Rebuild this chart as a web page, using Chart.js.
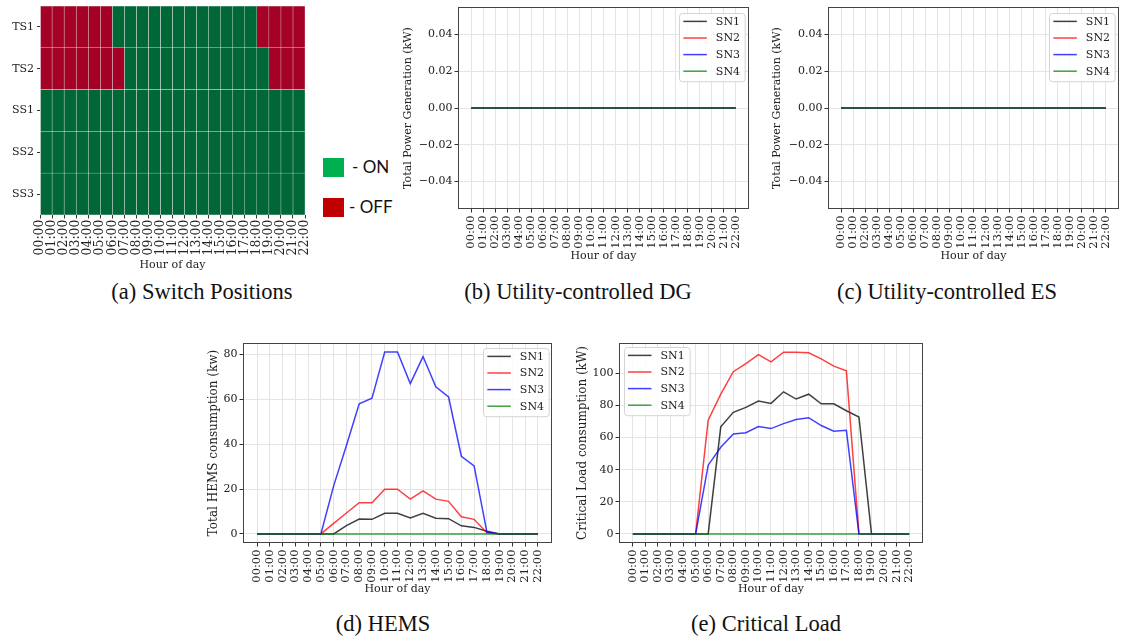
<!DOCTYPE html>
<html>
<head>
<meta charset="utf-8">
<script src="https://cdn.jsdelivr.net/npm/chart.js@4.4.1/dist/chart.umd.min.js"></script>
<style>
  body { margin: 0; background: #fff; width: 1121px; height: 641px; position: relative; overflow: hidden; }
  .box { position: absolute; }
  .cap { position: absolute; font-family: "Liberation Serif", "Times New Roman", serif; font-size: 22.5px; line-height: 26px; color: #111; transform: translateX(-50%); white-space: nowrap; }
  .key { position: absolute; width: 21px; height: 19px; }
  .keytxt { position: absolute; font-family: Lato, "Open Sans", sans-serif; font-size: 17px; line-height: 20px; color: #111; }
</style>
</head>
<body>
<div class="box" style="left:0px;top:0px;width:310px;height:272px"><canvas id="chartA"></canvas></div>
<div class="box" style="left:402px;top:0px;width:353px;height:263px"><canvas id="chartB"></canvas></div>
<div class="box" style="left:771px;top:0px;width:350px;height:263px"><canvas id="chartC"></canvas></div>
<div class="box" style="left:207px;top:335px;width:353px;height:261px"><canvas id="chartD"></canvas></div>
<div class="box" style="left:576px;top:335px;width:354px;height:261px"><canvas id="chartE"></canvas></div>

<div class="key" style="left:323px;top:158px;background:#00b050"></div>
<div class="keytxt" style="left:352px;top:157px">- ON</div>
<div class="key" style="left:323px;top:198px;background:#c00000"></div>
<div class="keytxt" style="left:349px;top:197px">- OFF</div>

<div class="cap" style="left:202px;top:279px">(a) Switch Positions</div>
<div class="cap" style="left:578px;top:279px">(b) Utility-controlled DG</div>
<div class="cap" style="left:947px;top:279px">(c) Utility-controlled ES</div>
<div class="cap" style="left:383px;top:611px">(d) HEMS</div>
<div class="cap" style="left:766px;top:611px">(e) Critical Load</div>

<script>
// heures affichées sur l'axe x
const hours = ['00:00','01:00','02:00','03:00','04:00','05:00','06:00','07:00','08:00','09:00','10:00','11:00',
               '12:00','13:00','14:00','15:00','16:00','17:00','18:00','19:00','20:00','21:00','22:00'];

// positions des interrupteurs (1 = ON, 0 = OFF), 22 cases par ligne
const switchRows = ['TS1', 'TS2', 'SS1', 'SS2', 'SS3'];
const ts1 = [0,0,0,0,0,0,1,1,1,1,1,1,1,1,1,1,1,1,0,0,0,0];
const ts2 = [0,0,0,0,0,0,0,1,1,1,1,1,1,1,1,1,1,1,1,0,0,0];
const ss1 = [1,1,1,1,1,1,1,1,1,1,1,1,1,1,1,1,1,1,1,1,1,1];
const ss2 = [1,1,1,1,1,1,1,1,1,1,1,1,1,1,1,1,1,1,1,1,1,1];
const ss3 = [1,1,1,1,1,1,1,1,1,1,1,1,1,1,1,1,1,1,1,1,1,1];

// production DG / ES contrôlée par l'opérateur (kW)
const dgSN1 = [0,0,0,0,0,0,0,0,0,0,0,0,0,0,0,0,0,0,0,0,0,0,0];
const dgSN2 = [0,0,0,0,0,0,0,0,0,0,0,0,0,0,0,0,0,0,0,0,0,0,0];
const dgSN3 = [0,0,0,0,0,0,0,0,0,0,0,0,0,0,0,0,0,0,0,0,0,0,0];
const dgSN4 = [0,0,0,0,0,0,0,0,0,0,0,0,0,0,0,0,0,0,0,0,0,0,0];
const esSN1 = [0,0,0,0,0,0,0,0,0,0,0,0,0,0,0,0,0,0,0,0,0,0,0];
const esSN2 = [0,0,0,0,0,0,0,0,0,0,0,0,0,0,0,0,0,0,0,0,0,0,0];
const esSN3 = [0,0,0,0,0,0,0,0,0,0,0,0,0,0,0,0,0,0,0,0,0,0,0];
const esSN4 = [0,0,0,0,0,0,0,0,0,0,0,0,0,0,0,0,0,0,0,0,0,0,0];

// consommation HEMS (kW)
const hemsSN1 = [0,0,0,0,0,0,0,3.7,6.6,6.5,9.2,9.2,7.1,9.2,7.0,6.8,3.6,2.9,1.2,0,0,0,0];
const hemsSN2 = [0,0,0,0,0,0,4.7,9.3,13.9,13.9,19.9,19.9,15.5,19.2,15.5,14.5,7.6,6.5,0.5,0,0,0,0];
const hemsSN3 = [0,0,0,0,0,0,21.4,39.4,58,60.5,81,81,67,79,65.5,61,34.6,30.3,0.8,0,0,0,0];
const hemsSN4 = [0,0,0,0,0,0,0,0,0,0,0,0,0,0,0,0,0,0,0,0,0,0,0];

// charge critique (kW)
const critSN1 = [0,0,0,0,0,0,0,66.7,75.7,78.8,82.7,81.3,88.5,84,87,81,81,76.7,72.8,0,0,0,0];
const critSN2 = [0,0,0,0,0,0,70.8,87,101,106,111.7,107.2,113.2,113.2,112.8,109,104.5,101.6,0,0,0,0,0];
const critSN3 = [0,0,0,0,0,0,42.8,54,62.3,63,66.9,65.6,68.7,71.2,72.4,67.5,64,64.6,0,0,0,0,0];
const critSN4 = [0,0,0,0,0,0,0,0,0,0,0,0,0,0,0,0,0,0,0,0,0,0,0];

// graduations de l'axe y
const genTicks = [-0.04, -0.02, 0, 0.02, 0.04];
const hemsTicks = [0, 20, 40, 60, 80];
const critTicks = [0, 20, 40, 60, 80, 100];

const seriesNames = ['SN1', 'SN2', 'SN3', 'SN4'];
const seriesColors = ['rgba(0,0,0,0.75)', 'rgba(255,0,0,0.75)', 'rgba(0,0,255,0.75)', 'rgba(0,128,0,0.75)'];

Chart.defaults.font.family = "'DejaVu Serif', serif";
Chart.defaults.color = '#222';
Chart.defaults.animation = false;

// cadre complet autour de la zone de tracé
const frame = {
  id: 'frame',
  afterDraw(chart, args, opts) {
    if (!opts.show) return;
    const a = chart.chartArea, ctx = chart.ctx;
    ctx.save();
    ctx.strokeStyle = '#444';
    ctx.lineWidth = 1;
    ctx.strokeRect(Math.round(a.left) + 0.5, Math.round(a.top) + 0.5,
                   Math.round(a.right - a.left) - 1, Math.round(a.bottom - a.top) - 1);
    ctx.restore();
  }
};

// légende dans un cadre arrondi, à l'intérieur du graphe
const boxLegend = {
  id: 'boxLegend',
  afterDraw(chart, args, opts) {
    if (!opts.corner) return;
    const ctx = chart.ctx, a = chart.chartArea;
    const sets = chart.data.datasets;
    ctx.save();
    ctx.font = "11px 'DejaVu Serif'";
    const tw = Math.max(...sets.map(d => ctx.measureText(d.label).width));
    const rowH = 16.6;
    const w = 4 + 23.5 + 9 + tw + 5;
    const h = 8.4 + rowH * (sets.length - 1) + 10;
    const x = opts.corner === 'tr' ? a.right - opts.dx - w : a.left + opts.dx;
    const y = a.top + opts.dy;
    ctx.beginPath();
    ctx.roundRect(Math.round(x) + 0.5, Math.round(y) + 0.5, w, h, 3);
    ctx.fillStyle = 'rgba(255,255,255,0.85)';
    ctx.fill();
    ctx.strokeStyle = '#d4d4d4';
    ctx.lineWidth = 1;
    ctx.stroke();
    sets.forEach((d, i) => {
      const cy = y + 8.4 + rowH * i;
      ctx.strokeStyle = d.borderColor;
      ctx.lineWidth = 1.5;
      ctx.beginPath();
      ctx.moveTo(x + 4, cy);
      ctx.lineTo(x + 27.5, cy);
      ctx.stroke();
      ctx.fillStyle = '#222';
      ctx.textBaseline = 'middle';
      ctx.fillText(d.label, x + 36.5, cy + 0.5);
    });
    ctx.restore();
  }
};

function fixWidth(w) {
  return s => { s.width = w; s.paddingTop = 0; s.paddingBottom = 0; s.paddingLeft = 0; s.paddingRight = 0; };
}
function fixHeight(h) {
  return s => { s.height = h; s.paddingTop = 0; s.paddingBottom = 0; s.paddingLeft = 0; s.paddingRight = 0; };
}

// graphe linéaire générique
function lineChart(id, values, cfg) {
  const datasets = values.map((v, i) => ({
    label: seriesNames[i],
    data: v.map((y, x) => ({ x: x, y: y })),
    borderColor: seriesColors[i],
    backgroundColor: seriesColors[i],
    borderWidth: 1.5,
    pointRadius: 0,
    tension: 0,
    order: values.length - i
  }));
  return new Chart(document.getElementById(id), {
    type: 'line',
    data: { datasets: datasets },
    options: {
      responsive: true,
      maintainAspectRatio: false,
      devicePixelRatio: 1,
      layout: { padding: { top: cfg.padTop, right: cfg.padRight, left: 0, bottom: 0 } },
      plugins: {
        legend: { display: false },
        tooltip: { enabled: false },
        frame: { show: true },
        boxLegend: { corner: cfg.corner, dx: cfg.legDx, dy: cfg.legDy }
      },
      scales: {
        x: {
          type: 'linear',
          min: -1.1,
          max: 23.1,
          afterBuildTicks: s => { s.ticks = hours.map((h, i) => ({ value: i })); },
          afterFit: fixHeight(cfg.xH),
          ticks: {
            autoSkip: false, maxRotation: 90, minRotation: 90, padding: 3,
            font: { size: 11.5 },
            callback: v => hours[v]
          },
          grid: { color: '#e4e4e4', tickColor: '#333', tickLength: 3.5 },
          border: { display: false },
          title: { display: true, text: 'Hour of day', font: { size: 11 }, padding: 0 }
        },
        y: {
          min: cfg.yMin,
          max: cfg.yMax,
          afterBuildTicks: s => { s.ticks = cfg.yTicks.map(v => ({ value: v })); },
          afterFit: fixWidth(cfg.yW),
          ticks: {
            padding: 2,
            font: { size: 11 },
            callback: cfg.yFmt
          },
          grid: { color: '#e4e4e4', tickColor: '#333', tickLength: 3.5 },
          border: { display: false },
          title: { display: true, text: cfg.yTitle, font: { size: cfg.yTitleFont }, padding: 0 }
        }
      }
    },
    plugins: [frame, boxLegend]
  });
}

const genFmt = v => (v < 0 ? '\u2212' : '') + Math.abs(v).toFixed(2);
const intFmt = v => String(v);

// (a) positions des interrupteurs : barres flottantes horizontales
const switchStates = [ts1, ts2, ss1, ss2, ss3];
const onColor = '#006837', offColor = '#a50026';
const cellSets = ts1.map((_, k) => ({
  data: switchRows.map(() => [k, k + 1]),
  backgroundColor: switchStates.map(r => r[k] ? onColor : offColor),
  borderColor: '#e8e8e8',
  borderWidth: 0.5,
  borderSkipped: false,
  barPercentage: 1,
  categoryPercentage: 1,
  grouped: false
}));

new Chart(document.getElementById('chartA'), {
  type: 'bar',
  data: { labels: switchRows, datasets: cellSets },
  options: {
    indexAxis: 'y',
    responsive: true,
    maintainAspectRatio: false,
    devicePixelRatio: 1,
    layout: { padding: { top: 6, right: 5, left: 0, bottom: 0 } },
    plugins: { legend: { display: false }, tooltip: { enabled: false } },
    scales: {
      x: {
        type: 'linear',
        min: 0,
        max: 22,
        afterBuildTicks: s => { s.ticks = hours.map((h, i) => ({ value: i })); },
        afterFit: fixHeight(57),
        ticks: { autoSkip: false, maxRotation: 90, minRotation: 90, padding: 1, font: { size: 12.5 }, callback: v => hours[v] },
        grid: { drawOnChartArea: false, color: 'rgba(0,0,0,0)', tickColor: '#333', tickLength: 3.5 },
        border: { display: false },
        title: { display: true, text: 'Hour of day', font: { size: 11 }, padding: 0 }
      },
      y: {
        type: 'category',
        afterFit: fixWidth(40),
        ticks: { padding: 3, font: { size: 11 } },
        grid: { offset: false, drawOnChartArea: false, color: 'rgba(0,0,0,0)', tickColor: '#333', tickLength: 3 },
        border: { display: false }
      }
    }
  }
});

// (b) DG
lineChart('chartB', [dgSN1, dgSN2, dgSN3, dgSN4], {
  padTop: 7, padRight: 6, xH: 54, yW: 56,
  yMin: -0.055, yMax: 0.055, yTicks: genTicks, yFmt: genFmt,
  yTitle: 'Total Power Generation (kW)', yTitleFont: 11,
  corner: 'tr', legDx: 4, legDy: 6
});

// (c) ES
lineChart('chartC', [esSN1, esSN2, esSN3, esSN4], {
  padTop: 7, padRight: 2, xH: 54, yW: 57,
  yMin: -0.055, yMax: 0.055, yTicks: genTicks, yFmt: genFmt,
  yTitle: 'Total Power Generation (kW)', yTitleFont: 11,
  corner: 'tr', legDx: 4, legDy: 6
});

// (d) HEMS
lineChart('chartD', [hemsSN1, hemsSN2, hemsSN3, hemsSN4], {
  padTop: 8, padRight: 8, xH: 53, yW: 36,
  yMin: -4.05, yMax: 85.05, yTicks: hemsTicks, yFmt: intFmt,
  yTitle: 'Total HEMS consumption (kw)', yTitleFont: 12,
  corner: 'tr', legDx: 3, legDy: 5
});

// (e) charge critique
lineChart('chartE', [critSN1, critSN2, critSN3, critSN4], {
  padTop: 8, padRight: 7, xH: 53, yW: 43,
  yMin: -5.66, yMax: 118.9, yTicks: critTicks, yFmt: intFmt,
  yTitle: 'Critical Load consumption (kW)', yTitleFont: 12,
  corner: 'tl', legDx: 5, legDy: 4
});
</script>
</body>
</html>
